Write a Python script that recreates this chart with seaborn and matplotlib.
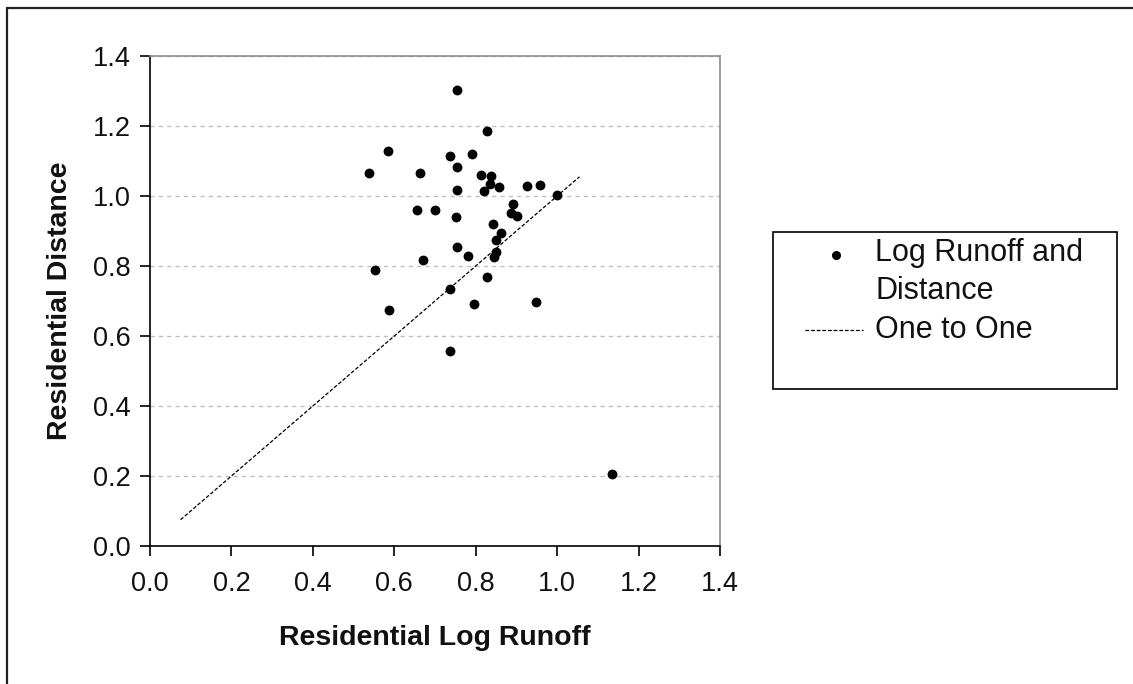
import matplotlib
matplotlib.use("Agg")
import matplotlib.pyplot as plt
import matplotlib.lines as mlines
import matplotlib.patches as mpatches
import seaborn as sns
import pandas as pd

# ---- data ----
log_runoff = [0.755, 0.827, 0.584, 0.738, 0.792, 0.537, 0.663, 0.755, 0.814, 0.837,
              0.834, 0.856, 0.755, 0.820, 0.926, 0.958, 0.999, 0.655, 0.699, 0.752,
              0.892, 0.886, 0.902, 0.842, 0.863, 0.851, 0.755, 0.780, 0.851, 0.844,
              0.670, 0.553, 0.827, 0.736, 0.587, 0.795, 0.949, 0.738, 1.135]
distance = [1.304, 1.185, 1.128, 1.114, 1.121, 1.065, 1.065, 1.084, 1.060, 1.058,
            1.035, 1.025, 1.018, 1.015, 1.029, 1.032, 1.002, 0.961, 0.961, 0.940,
            0.978, 0.951, 0.942, 0.920, 0.895, 0.875, 0.854, 0.830, 0.840, 0.826,
            0.818, 0.788, 0.770, 0.733, 0.674, 0.692, 0.698, 0.558, 0.207]
one_to_one_x = [0.075, 1.055]
one_to_one_y = [0.075, 1.055]
ticks = [0.0, 0.2, 0.4, 0.6, 0.8, 1.0, 1.2, 1.4]
tick_labels = ["0.0", "0.2", "0.4", "0.6", "0.8", "1.0", "1.2", "1.4"]
x_label = "Residential Log Runoff"
y_label = "Residential Distance"
legend_lines_pts = ["Log Runoff and", "Distance"]
legend_line_name = "One to One"

sns.set_theme(style="white")
plt.rcParams["font.family"] = ["Liberation Sans", "DejaVu Sans"]

W, H = 1133, 684
fig = plt.figure(figsize=(W / 100, H / 100), dpi=100)
ax = fig.add_axes([150 / W, 1 - 546 / H, (720 - 150) / W, (546 - 56) / H])

pts = pd.DataFrame({"x": log_runoff, "y": distance})
line = pd.DataFrame({"x": one_to_one_x, "y": one_to_one_y})

dash = (0, (3, 1.5))
sns.lineplot(data=line, x="x", y="y", ax=ax, color="black", linewidth=0.9,
             linestyle=dash, zorder=2)
sns.scatterplot(data=pts, x="x", y="y", ax=ax, color="black", s=50,
                edgecolor="black", linewidth=0, zorder=3)

ax.set_xlim(0, 1.4)
ax.set_ylim(0, 1.4)
ax.set_xticks(ticks)
ax.set_xticklabels(tick_labels)
ax.set_yticks(ticks)
ax.set_yticklabels(tick_labels)
ax.yaxis.grid(True, color="#c0c0c0", linestyle=(0, (3, 3)), linewidth=1)
ax.xaxis.grid(False)
ax.set_axisbelow(True)

for side in ["left", "bottom"]:
    ax.spines[side].set_color("black")
    ax.spines[side].set_linewidth(1.2)
for side in ["top", "right"]:
    ax.spines[side].set_color("#8c8c8c")
    ax.spines[side].set_linewidth(1.2)

ax.tick_params(axis="both", which="major", direction="out", length=7, width=1.2,
               color="black", labelsize=19.5, labelcolor="#111111",
               left=True, bottom=True)
ax.tick_params(axis="x", pad=11)
ax.tick_params(axis="y", pad=7)

ax.set_xlabel(x_label, fontsize=20.5, fontweight="bold", labelpad=20, color="#111111")
ax.set_ylabel(y_label, fontsize=20.5, fontweight="bold", labelpad=14, color="#111111")

# legend box (drawn by hand to match the reference layout)
rect = mpatches.Rectangle((773 / W, 1 - 389 / H), (1117 - 773) / W, (389 - 232) / H,
                          transform=fig.transFigure, facecolor="white",
                          edgecolor="black", linewidth=1.2, zorder=5)
fig.patches.append(rect)
fx = lambda px: px / W
fy = lambda py: 1 - py / H
fig.add_artist(mlines.Line2D([fx(836)], [fy(255)], transform=fig.transFigure,
                             color="black", marker="o", markersize=5.5,
                             linestyle="none", zorder=6))
fig.add_artist(mlines.Line2D([fx(805), fx(863)], [fy(330), fy(330)],
                             transform=fig.transFigure, color="black",
                             linewidth=0.9, linestyle=dash, zorder=6))
legend_text_y = [253, 291, 330]
for txt, py in zip(legend_lines_pts + [legend_line_name], legend_text_y):
    fig.text(fx(875), fy(py), txt, fontsize=22, color="#111111",
             ha="left", va="center", zorder=6)

# outer chart-area border (left and top visible)
fig.add_artist(mlines.Line2D([7 / W, 7 / W], [0, 1 - 8 / H], transform=fig.transFigure,
                             color="#222222", linewidth=1.6))
fig.add_artist(mlines.Line2D([7 / W, 1], [1 - 8 / H, 1 - 8 / H], transform=fig.transFigure,
                             color="#222222", linewidth=1.6))

fig.savefig("out.png", dpi=100)
